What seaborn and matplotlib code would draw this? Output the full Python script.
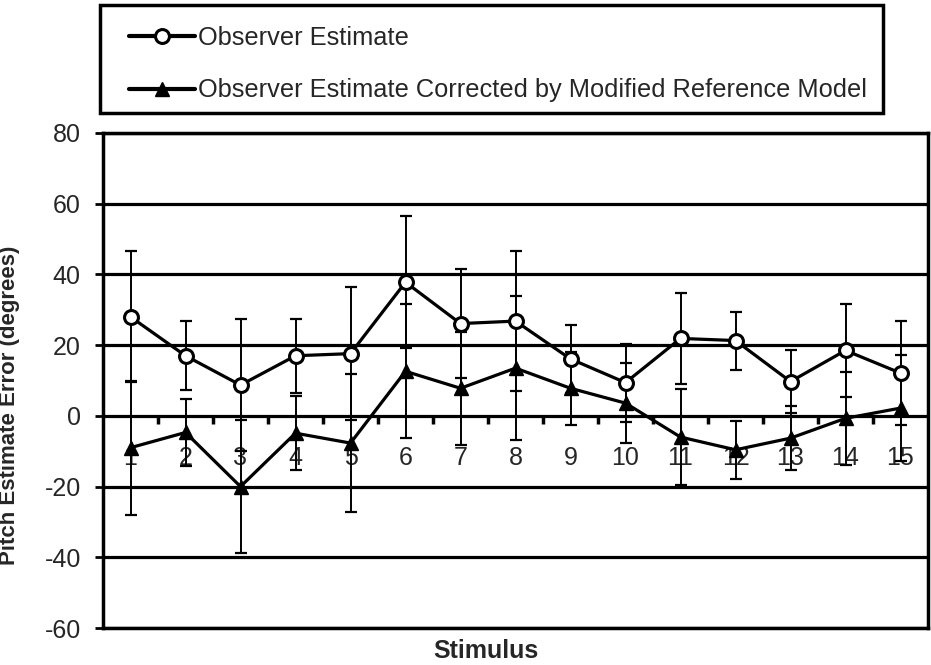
import numpy as np
import pandas as pd
import matplotlib
matplotlib.use("Agg")
import matplotlib.pyplot as plt
from matplotlib.patches import Rectangle
import seaborn as sns

stimulus = list(range(1, 16))
observer = [28, 17, 8.7, 17, 17.6, 37.8, 26.1, 26.8, 16.1, 9.4, 21.9, 21.3, 9.7, 18.5, 12.1]
observer_err = [18.5, 9.8, 18.7, 10.4, 18.8, 18.6, 15.5, 19.7, 9.6, 11.0, 12.9, 8.2, 9.0, 13.1, 14.7]
corrected = [-9, -4.7, -20, -4.9, -7.7, 12.6, 7.8, 13.5, 7.8, 3.6, -6.0, -9.6, -6.3, -0.7, 2.2]
corrected_err = [19.0, 9.6, 18.9, 10.4, 19.4, 18.9, 16.0, 20.3, 10.4, 11.3, 13.5, 8.2, 9.0, 13.2, 14.9]
y_ticks = [-60, -40, -20, 0, 20, 40, 60, 80]
labels = ["Observer Estimate", "Observer Estimate Corrected by Modified Reference Model"]

sns.set_style("white")
plt.rcParams["font.family"] = ["Liberation Sans", "DejaVu Sans"]

W, H = 931, 665
fig = plt.figure(figsize=(W/100, H/100), dpi=100)
ax = fig.add_axes([103/W, 1-628/H, 825/W, 495/H])

df1 = pd.DataFrame({"x": stimulus, "y": observer})
df2 = pd.DataFrame({"x": stimulus, "y": corrected})

ax.errorbar(stimulus, observer, yerr=observer_err, fmt="none", ecolor="black",
            elinewidth=1.4, capsize=4, capthick=1.6, zorder=3)
ax.errorbar(stimulus, corrected, yerr=corrected_err, fmt="none", ecolor="black",
            elinewidth=1.4, capsize=4, capthick=1.6, zorder=3)

sns.lineplot(data=df1, x="x", y="y", ax=ax, color="black", linewidth=2.3,
             marker="o", markersize=10, markerfacecolor="white",
             markeredgecolor="black", markeredgewidth=2.2, label=labels[0], zorder=4)
sns.lineplot(data=df2, x="x", y="y", ax=ax, color="black", linewidth=2.3,
             marker="^", markersize=10.5, markerfacecolor="black",
             markeredgecolor="black", markeredgewidth=1, label=labels[1], zorder=4)

ax.set_xlim(0.5, 15.5)
ax.set_ylim(-60, 80)
ax.set_yticks(y_ticks)
ax.set_yticklabels([str(v) for v in y_ticks], fontsize=18)
ax.tick_params(axis="y", direction="out", length=6, width=2, pad=10, color="black", left=True)
ax.set_xticks([])
ax.grid(axis="y", color="black", linewidth=2.3, zorder=1)
ax.set_axisbelow(True)
for s in ax.spines.values():
    s.set_visible(True)
    s.set_color("black")
    s.set_linewidth(2.5)

ax.set_ylabel("")
ax.set_xlabel("")
fig.text(10/W, 1-405/H, "Pitch Estimate Error (degrees)", rotation=90,
         ha="center", va="center", fontsize=16, fontweight="bold")
fig.text(486/W, 1-651/H, "Stimulus", ha="center", va="center",
         fontsize=18, fontweight="bold")

# category axis crossing at y = 0
loc = (0 - (-60)) / (80 - (-60))
sec = ax.secondary_xaxis(loc)
sec.spines["bottom"].set_visible(False)
sec.set_xticks(stimulus)
sec.set_xticklabels([str(s) for s in stimulus], fontsize=18)
sec.set_xticks([s + 0.5 for s in stimulus[:-1]], minor=True)
sec.tick_params(axis="x", which="major", length=0, pad=22)
sec.tick_params(axis="x", which="minor", direction="out", length=6, width=2.5, color="black")

ax.get_legend().remove()
handles, labs = ax.get_legend_handles_labels()
frame = Rectangle((100/W, 1-113/H), 783/W, 108/H, transform=fig.transFigure,
                  fill=False, edgecolor="black", linewidth=2.5)
fig.patches.append(frame)
leg = fig.legend(handles, labs, loc="upper left",
                 bbox_to_anchor=(129/W, 1-26/H),
                 fontsize=18.3, frameon=False,
                 handlelength=2.6, handletextpad=0.1, labelspacing=1.12,
                 borderpad=0, borderaxespad=0)
for ln in leg.get_lines():
    ln.set_linewidth(3)

fig.savefig("out.png", dpi=100)
